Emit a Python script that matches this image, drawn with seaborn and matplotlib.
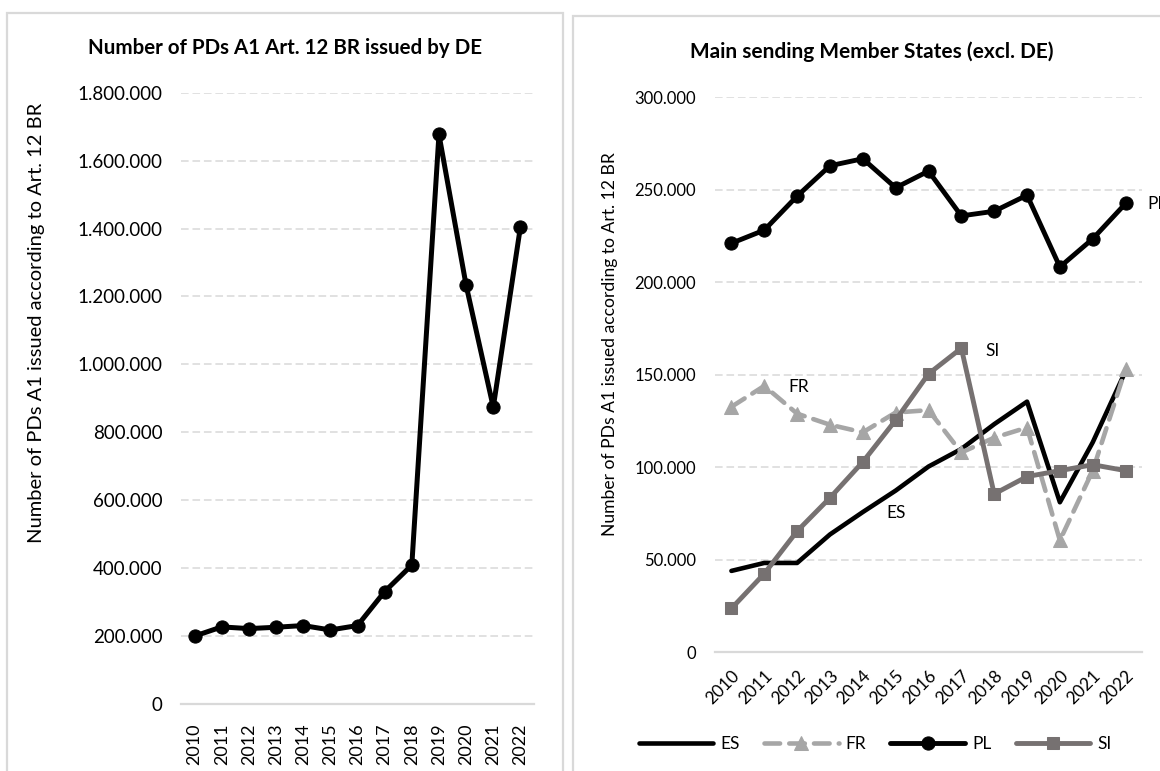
import matplotlib
matplotlib.use("Agg")
import matplotlib.pyplot as plt
import seaborn as sns
import numpy as np
import pandas as pd
from matplotlib.ticker import FuncFormatter, FixedLocator
from matplotlib.patches import Rectangle

# ---------------- data ----------------
years = [2010, 2011, 2012, 2013, 2014, 2015, 2016, 2017, 2018, 2019, 2020, 2021, 2022]
de_values = [200000, 227000, 222000, 226000, 231000, 218000, 231000, 331000, 409000,
             1677000, 1233000, 874000, 1405000]
es_values = [44000, 48300, 48300, 63700, 75800, 87400, 100400, 109900, 123300, 135500,
             81100, 113500, 152000]
fr_values = [132700, 144000, 129000, 123000, 118900, 129600, 130900, 108000, 116000,
             121500, 60500, 98200, 153200]
pl_values = [221100, 228200, 246600, 263000, 266800, 251100, 260100, 235900, 238400,
             247100, 208300, 223500, 242600]
si_values = [23700, 42500, 65500, 83500, 102900, 125500, 150500, 164400, 85600, 95000,
             98200, 101400, 98200]
left_title = "Number of PDs A1 Art. 12 BR issued by DE"
right_title = "Main sending Member States (excl. DE)"
y_label = "Number of PDs A1 issued according to Art. 12 BR"
left_yticks = [0, 200000, 400000, 600000, 800000, 1000000, 1200000, 1400000, 1600000, 1800000]
right_yticks = [0, 50000, 100000, 150000, 200000, 250000, 300000]
series_names = ["ES", "FR", "PL", "SI"]

# ---------------- style ----------------
sns.set_theme(style="white")
plt.rcParams["font.family"] = ["Lato", "DejaVu Sans"]
plt.rcParams["text.color"] = "#000000"

BLACK = "#000000"
LIGHT = "#a6a6a6"
DARK = "#767171"
GRID = "#d9d9d9"

def dotted_fmt(v, pos=None):
    return f"{int(round(v)):,}".replace(",", ".")

fig = plt.figure(figsize=(11.6, 7.71), dpi=100)

# chart frames (Excel chart areas)
fig.patches.append(Rectangle((7.4 / 1160, -0.05), (563 - 7.4) / 1160, 1 - 12.7 / 771 + 0.05,
                             transform=fig.transFigure, fill=False, edgecolor=GRID, lw=1.6))
fig.patches.append(Rectangle((572.7 / 1160, -0.05), 0.6, 1 - 15.7 / 771 + 0.05,
                             transform=fig.transFigure, fill=False, edgecolor=GRID, lw=1.6))

def style_axis(ax, yticks, ysize, xsize):
    ax.set_xlim(2009.5, 2022.5)
    ax.set_ylim(yticks[0], yticks[-1])
    ax.yaxis.set_major_locator(FixedLocator(yticks))
    ax.yaxis.set_major_formatter(FuncFormatter(dotted_fmt))
    ax.set_xticks(years)
    for s in ["top", "right", "left"]:
        ax.spines[s].set_visible(False)
    ax.spines["bottom"].set_color(GRID)
    ax.spines["bottom"].set_linewidth(1.6)
    ax.grid(False)
    for t in yticks[1:]:
        ax.axhline(t, color=GRID, lw=1.1, ls=(0, (5, 2.5)), zorder=0)
    ax.tick_params(axis="y", length=0, pad=13.5, labelsize=ysize, colors="#000000")
    ax.tick_params(axis="x", length=0, labelsize=xsize, colors="#000000")
    ax.set_xlabel("")
    ax.set_ylabel("")
    ax.set_facecolor("none")

# ---------------- left chart ----------------
axL = fig.add_axes([181 / 1160, 67 / 771, 353 / 1160, 611.3 / 771])
sns.lineplot(x=years, y=de_values, ax=axL, color=BLACK, lw=3.6, marker="o",
             markersize=9.5, markeredgecolor=BLACK, markerfacecolor=BLACK, zorder=3)
style_axis(axL, left_yticks, 13.5, 13)
axL.set_xticklabels([str(y) for y in years], rotation=90)
axL.tick_params(axis="x", pad=14)
fig.text(285 / 1160, 1 - 48.3 / 771, left_title, ha="center", va="center",
         fontsize=14.8, fontweight="bold")
fig.text(37 / 1160, 1 - 322.5 / 771, y_label, rotation=90, ha="center", va="center",
         fontsize=14.5)

# ---------------- right chart ----------------
axR = fig.add_axes([715 / 1160, 118.7 / 771, 427 / 1160, 555 / 771])
df = pd.DataFrame({"year": years, "ES": es_values, "FR": fr_values,
                   "PL": pl_values, "SI": si_values})

sns.lineplot(data=df, x="year", y="ES", ax=axR, color=BLACK, lw=3.3, label="ES", zorder=3)
sns.lineplot(data=df, x="year", y="FR", ax=axR, color=LIGHT, lw=3.3, marker="^",
             markersize=10.5, markeredgecolor=LIGHT, markerfacecolor=LIGHT,
             label="FR", zorder=4)
axR.lines[-1].set_dashes((3.4, 2.0))
axR.lines[-1].set_dash_capstyle("round")
sns.lineplot(data=df, x="year", y="PL", ax=axR, color=BLACK, lw=3.5, marker="o",
             markersize=9.5, markeredgecolor=BLACK, markerfacecolor=BLACK,
             label="PL", zorder=5)
sns.lineplot(data=df, x="year", y="SI", ax=axR, color=DARK, lw=3.5, marker="s",
             markersize=8.5, markeredgecolor=DARK, markerfacecolor=DARK,
             label="SI", zorder=6)
style_axis(axR, right_yticks, 12, 12.5)
axR.set_xticklabels([str(y) for y in years], rotation=45, ha="right",
                    rotation_mode="anchor")
axR.tick_params(axis="x", pad=11)

# series labels
axR.text(2011.72, 143600, "FR", ha="left", va="center", fontsize=12.5, zorder=7)
axR.text(2017.72, 163000, "SI", ha="left", va="center", fontsize=12.5, zorder=7)
axR.text(2015.0, 75500, "ES", ha="center", va="center", fontsize=12.5, zorder=7)
axR.text(2022.67, 242300, "PL", ha="left", va="center", fontsize=12.5, zorder=7,
         clip_on=False)

fig.text(871.9 / 1160, 1 - 52 / 771, right_title, ha="center", va="center",
         fontsize=15, fontweight="bold")
fig.text(609.6 / 1160, 1 - 344 / 771, y_label, rotation=90, ha="center", va="center",
         fontsize=12.6)

# legend
handles, labels = axR.get_legend_handles_labels()
axR.legend(handles, labels, loc="center", bbox_to_anchor=(875 / 1160, 1 - 744 / 771),
           bbox_transform=fig.transFigure, ncol=4, frameon=False, fontsize=12.5,
           handlelength=4.3, handletextpad=0.4, columnspacing=1.4, numpoints=1)

fig.savefig("out.png", dpi=100)
